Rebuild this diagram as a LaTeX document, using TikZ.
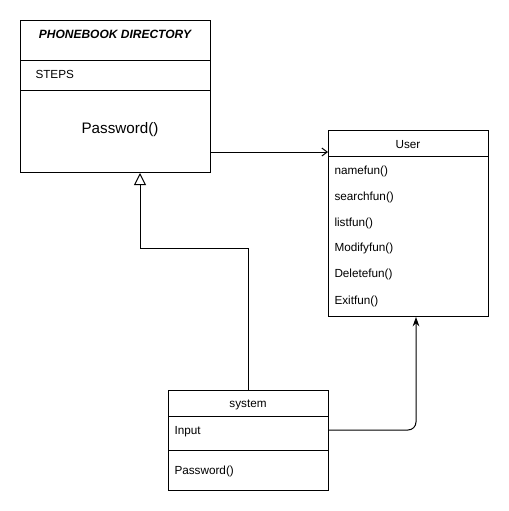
\documentclass[tikz,border=0pt]{standalone}
\usepackage{fontspec}
\setmainfont{Liberation Sans}
\usetikzlibrary{arrows.meta}

\begin{document}
\begin{tikzpicture}[x=0.75pt, y=-0.75pt, line width=0.75pt,
    classbox/.style={draw, rectangle, anchor=north west, inner sep=0pt},
    member/.style={anchor=west, inner sep=0pt, yshift=-1.2pt, font=\fontsize{8.8}{10}\selectfont},
    title/.style={inner sep=0pt, yshift=-1.2pt, font=\fontsize{8.8}{10}\selectfont}]
    \useasboundingbox (0,0) rectangle (509,511);

    % Class PHONEBOOK DIRECTORY
    \node[classbox, minimum width=142.5pt, minimum height=114pt] (Phone) at (20,20) {};
    \draw (20,60) -- (210,60);
    \draw (20,90) -- (210,90);
    \node[title, font=\fontsize{9}{10}\selectfont\bfseries\itshape] (PhoneTitle) at (115,33) {PHONEBOOK DIRECTORY};
    \node[member] (Steps) at (35,73) {STEPS};
    \node[title, font=\fontsize{11.4}{13}\selectfont] (PhonePass) at (120,128) {Password()};

    % Class User
    \node[classbox, minimum width=120pt, minimum height=139.5pt] (User) at (328,130) {};
    \draw (328,156) -- (488,156);
    \node[title] (UserTitle) at (408,143) {User};
    \foreach \name/\y in {namefun()/170, searchfun()/196, listfun()/222, Modifyfun()/247, Deletefun()/273, Exitfun()/300}
    {
        \node[member] at (334,\y) {\name};
    }

    % Class system
    \node[classbox, minimum width=120pt, minimum height=75pt] (System) at (168,390) {};
    \draw (168,416) -- (328,416);
    \draw (168,450) -- (328,450);
    \node[title] (SystemTitle) at (248,403) {system};
    \node[member] (Input) at (174,430) {Input};
    \node[member] (SystemPass) at (174,470) {Password()};

    % Connections
    \draw[-{Straight Barb[length=4pt, width=6pt]}] (Phone.east |- 0,152) -- (User.west |- 0,152);
    \draw[-{Triangle[open, length=9pt, width=9pt]}] (System.north) |- (140,248) -- (Phone.south west -| 140,0);
    \draw[-{Stealth[length=7pt, width=5pt]}, rounded corners=6] (System.east |- 0,430) -| (User.south -| 416,0);

\end{tikzpicture}
\end{document}
